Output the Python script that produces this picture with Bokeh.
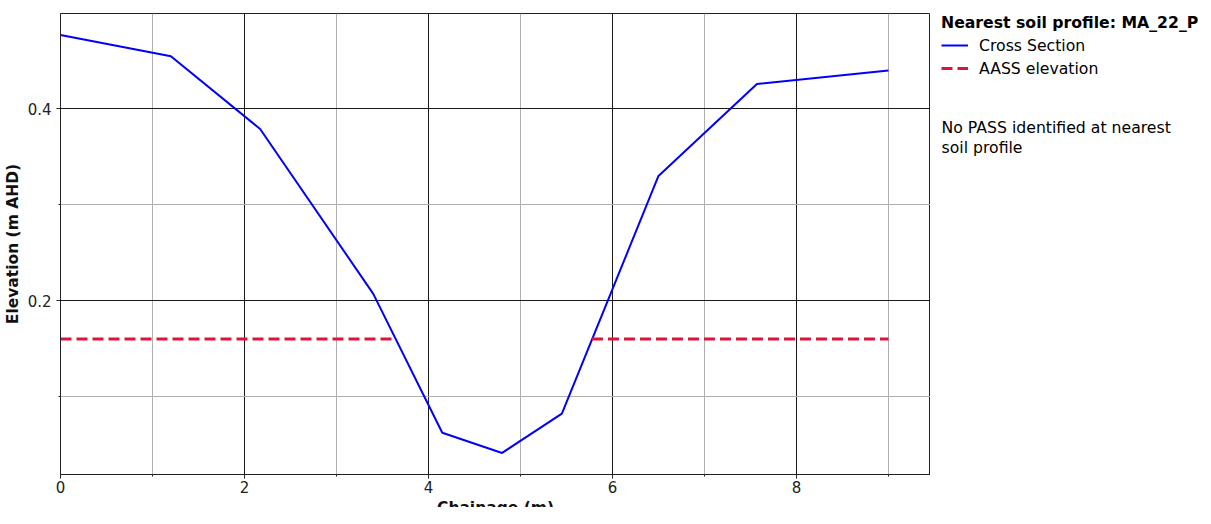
from bokeh.plotting import figure
from bokeh.layouts import row
from bokeh.models import (Range1d, FixedTicker, Legend, LegendItem, Label)
from bokeh.embed import file_html
from bokeh.resources import INLINE
import numpy as np

chainage = [0.0, 1.2, 2.17, 3.4, 4.15, 4.8, 5.45, 6.5, 7.57, 9.0]
elevation = [0.477, 0.455, 0.379, 0.207, 0.062, 0.041, 0.082, 0.330, 0.426, 0.440]
aass_x = [0.0, 3.643, np.nan, 5.777, 9.0]
aass_y = [0.16, 0.16, np.nan, 0.16, 0.16]
x_major = [0, 2, 4, 6, 8]
x_minor = [1, 3, 5, 7, 9]
y_major = [0.2, 0.4]
y_minor = [0.1, 0.3]
legend_title = "Nearest soil profile: MA_22_P"
series_names = ["Cross Section", "AASS elevation"]
note_text = "No PASS identified at nearest\nsoil profile"

FONT = "DejaVu Sans"
BLUE = "#0000ff"
RED = "#dc143c"

p = figure(frame_width=870, frame_height=461, output_backend="svg", toolbar_location=None,
           x_range=Range1d(0, 9.457), y_range=Range1d(0.0185, 0.4995),
           min_border_left=56, min_border_right=0, min_border_top=1, min_border_bottom=0)

p.outline_line_color = "#222222"
p.outline_line_width = 1

p.line(chainage, elevation, line_color=BLUE, line_width=2)
p.line(aass_x, aass_y, line_color=RED, line_width=3, line_dash="11 5")

for ax, maj, mnr in ((p.xaxis[0], x_major, x_minor), (p.yaxis[0], y_major, y_minor)):
    ax.ticker = FixedTicker(ticks=maj, minor_ticks=mnr)
    ax.major_label_text_font = FONT
    ax.major_label_text_font_size = "15px"
    ax.major_label_text_color = "#222222"
    ax.axis_label_text_font = FONT
    ax.axis_label_text_font_size = "15.5px"
    ax.axis_label_text_font_style = "bold"
    ax.axis_label_text_color = "#111111"
    ax.axis_line_color = "#222222"
    ax.major_tick_line_color = "#222222"
    ax.minor_tick_line_color = "#222222"
    ax.major_tick_out = 4
    ax.major_tick_in = 0
    ax.minor_tick_out = 2
    ax.minor_tick_in = 0

p.xaxis.axis_label = "Chainage (m)"
p.yaxis.axis_label = "Elevation (m AHD)"
p.xaxis.major_label_standoff = 2
p.xaxis.axis_label_standoff = 3
p.yaxis.major_label_standoff = 5
p.yaxis.axis_label_standoff = 3
p.yaxis.major_label_orientation = "horizontal"

for g in (p.xgrid[0], p.ygrid[0]):
    g.grid_line_color = "#1a1a1a"
    g.grid_line_width = 1
    g.minor_grid_line_color = "#b0b0b0"
    g.minor_grid_line_width = 1

# side panel with legend and note (frame offset by min borders)
BL, BT = 11, 13
FW2, FH2 = 258, 490
p2 = figure(frame_width=FW2, frame_height=FH2, output_backend="svg", toolbar_location=None,
            x_range=Range1d(BL, BL + FW2), y_range=Range1d(BT + FH2, BT),
            x_axis_location=None, y_axis_location=None,
            min_border_left=BL, min_border_top=BT, min_border_right=0, min_border_bottom=0)
p2.outline_line_color = None
p2.grid.visible = False
d1 = p2.line(x=[-1000, -999], y=[-1000, -1000], line_color=BLUE, line_width=2)
d2 = p2.line(x=[-1000, -999], y=[-1000, -1000], line_color=RED, line_width=3, line_dash="11 5")

legend = Legend(items=[LegendItem(label=series_names[0], renderers=[d1]),
                       LegendItem(label=series_names[1], renderers=[d2])],
                location="top_left")
legend.title = legend_title
legend.title_text_font = FONT
legend.title_text_font_style = "bold"
legend.title_text_font_size = "15.7px"
legend.title_text_color = "#000000"
legend.title_standoff = 3
legend.label_text_font = FONT
legend.label_text_font_size = "15.7px"
legend.label_text_color = "#000000"
legend.border_line_color = None
legend.background_fill_alpha = 0
legend.glyph_width = 27
legend.glyph_height = 20
legend.label_height = 20
legend.label_standoff = 11
legend.spacing = 3
legend.margin = 0
legend.padding = 0
p2.add_layout(legend)

p2.add_layout(Label(x=11, y=117, text=note_text, text_font=FONT, text_font_size="15.7px",
                    text_color="#000000", text_baseline="top", text_line_height=1.1))

layout = row(p, p2)
open("out.html", "w").write(file_html(layout, INLINE))
